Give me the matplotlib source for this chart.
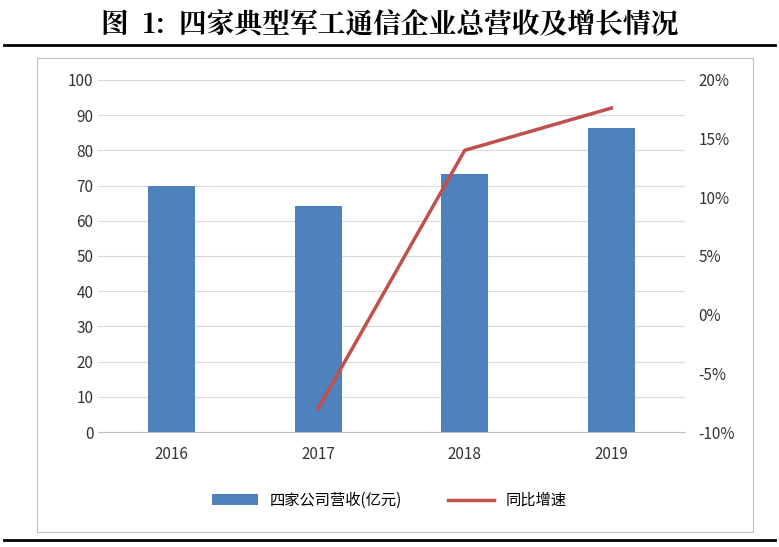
import matplotlib.pyplot as plt
from matplotlib.patches import Rectangle
from matplotlib.lines import Line2D

plt.rcParams['font.family'] = ['Noto Sans CJK SC', 'DejaVu Sans']

years = ["2016", "2017", "2018", "2019"]
revenue = [70.0, 64.3, 73.3, 86.3]
growth_years = ["2017", "2018", "2019"]
growth = [-8.0, 14.0, 17.6]

fig = plt.figure(figsize=(7.79, 5.47), dpi=100)

# title and rules
fig.text(0.5, 0.955, "图  1:  四家典型军工通信企业总营收及增长情况", ha="center", va="center",
         fontsize=20, fontweight="bold", family=["Noto Serif CJK SC", "Noto Sans CJK SC", "DejaVu Sans"])
fig.add_artist(Line2D([0.005, 0.995], [0.918, 0.918], color="black", lw=2))
fig.add_artist(Line2D([0.005, 0.995], [0.012, 0.012], color="black", lw=2))
fig.add_artist(Rectangle((0.048, 0.028), 0.918, 0.866, fill=False, ec="#bfbfbf", lw=0.8))

ax = fig.add_axes([0.126, 0.21, 0.753, 0.644])
x = list(range(len(years)))
ax.bar(x, revenue, width=0.32, color="#4F81BD", label="四家公司营收(亿元)", zorder=2)
ax.set_ylim(0, 100)
ax.set_yticks(range(0, 101, 10))
ax.set_xlim(-0.5, 3.5)
ax.set_xticks(x)
ax.set_xticklabels(years)
ax.grid(axis="y", color="#d9d9d9", lw=0.8, zorder=0)
for s in ["top", "right", "left"]:
    ax.spines[s].set_visible(False)
ax.spines["bottom"].set_color("#bfbfbf")
ax.tick_params(length=0, labelsize=11, colors="#333333")
ax.tick_params(axis="x", pad=10)

ax2 = ax.twinx()
gx = [years.index(y) for y in growth_years]
ax2.plot(gx, growth, color="#C0504D", lw=2.5, label="同比增速")
ax2.set_ylim(-10, 20)
ax2.set_yticks(range(-10, 21, 5))
ax2.set_yticklabels([f"{v}%" for v in range(-10, 21, 5)])
for s in ["top", "right", "left", "bottom"]:
    ax2.spines[s].set_visible(False)
ax2.tick_params(length=0, labelsize=11, colors="#333333", pad=10)

h1, l1 = ax.get_legend_handles_labels()
h2, l2 = ax2.get_legend_handles_labels()
fig.legend(h1 + h2, l1 + l2, loc="center", bbox_to_anchor=(0.5, 0.085), ncol=2,
           frameon=False, fontsize=11, columnspacing=3, handlelength=3)

fig.savefig("out.png", dpi=100)
